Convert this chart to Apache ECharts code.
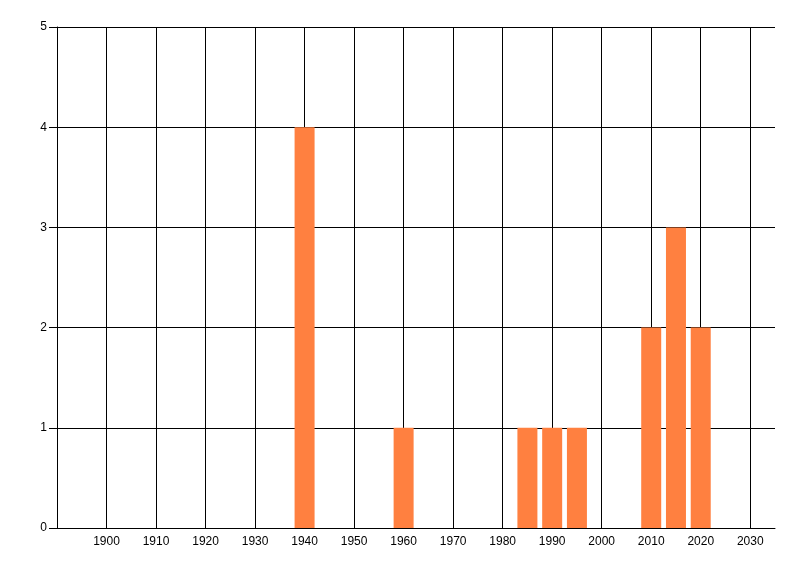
<!DOCTYPE html>
<html>
<head>
<meta charset="utf-8">
<script src="https://cdn.jsdelivr.net/npm/echarts@6/dist/echarts.min.js"></script>
<style>
html,body{margin:0;padding:0;background:#fff;}
#c{width:800px;height:576px;}
</style>
</head>
<body>
<div id="c"></div>
<script>
var years = [1940, 1960, 1985, 1990, 1995, 2010, 2015, 2020];
var counts = [4, 1, 1, 1, 1, 2, 3, 2];
var xTicks = [1900, 1910, 1920, 1930, 1940, 1950, 1960, 1970, 1980, 1990, 2000, 2010, 2020, 2030];
var xMin = 1890, xMax = 2035, xStep = 10;
var yMin = 0, yMax = 5, yStep = 1;

var chart = echarts.init(document.getElementById('c'), null, {renderer: 'canvas'});
var data = years.map(function (y, i) { return [y, counts[i]]; });
chart.setOption({
  animation: false,
  backgroundColor: '#ffffff',
  grid: {left: 57, right: 25, top: 27, bottom: 48, containLabel: false},
  xAxis: {
    type: 'value', min: xMin, max: xMax, interval: xStep,
    axisLine: {show: true, lineStyle: {color: '#000', width: 1}},
    axisTick: {show: false},
    axisLabel: {color: '#000', fontFamily: 'Liberation Sans', fontSize: 12, margin: 8,
      showMinLabel: false, showMaxLabel: false,
      formatter: function (v) { return String(v); }},
    splitLine: {show: false}
  },
  yAxis: {
    type: 'value', min: yMin, max: yMax, interval: yStep,
    axisLine: {show: true, lineStyle: {color: '#000', width: 1}},
    axisTick: {show: true, length: 8, lineStyle: {color: '#000', width: 1}},
    axisLabel: {color: '#000', fontFamily: 'Liberation Sans', fontSize: 12, margin: 10},
    splitLine: {show: true, lineStyle: {color: '#000', width: 1}}
  },
  series: [{
    type: 'line',
    data: [],
    z: 0,
    markLine: {
      silent: true,
      z: 0,
      symbol: ['none', 'none'],
      label: {show: false},
      lineStyle: {color: '#000', width: 1, type: 'solid'},
      data: xTicks.map(function (t) { return {xAxis: t}; })
    }
  }, {
    type: 'bar',
    data: data,
    barWidth: 20,
    z: 3,
    itemStyle: {color: '#FF8040'}
  }]
});
</script>
</body>
</html>
